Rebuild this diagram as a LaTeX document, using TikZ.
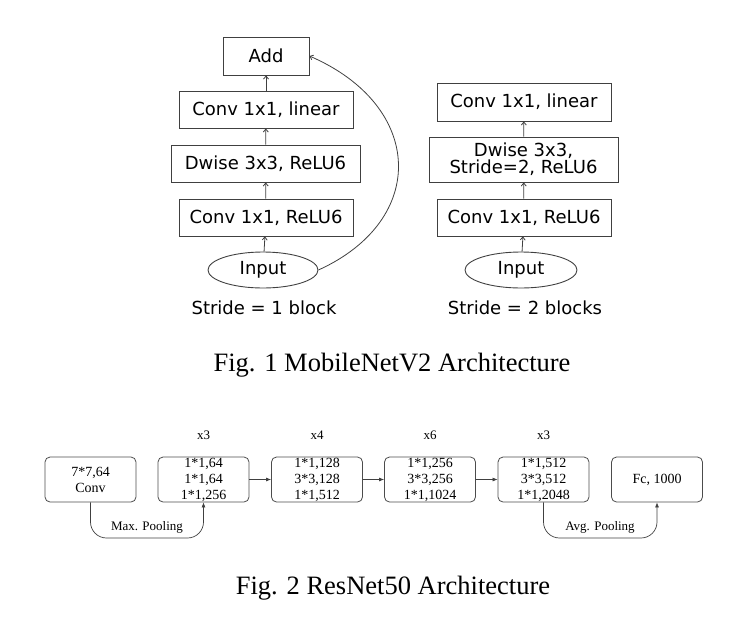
\documentclass[tikz,border=0pt]{standalone}
\usepackage{fontspec}
\setmainfont{Liberation Serif}
\newfontfamily\dvsans{DejaVu Sans}
\usetikzlibrary{arrows.meta,shapes.geometric}
\begin{document}
\begin{tikzpicture}[x=1pt,y=-1pt,
    blk/.style={draw=black!75, line width=0.9pt, inner sep=0pt, minimum height=37pt, align=center, font=\dvsans\fontsize{18}{17}\selectfont},
    inp/.style={blk, ellipse, minimum width=110pt, minimum height=36pt},
    lbl/.style={font=\dvsans\fontsize{18}{20}\selectfont},
    up/.style={draw=black!75, line width=0.8pt, -{Straight Barb[length=3pt,width=5pt]}},
    res/.style={draw=black!70, line width=0.8pt, rounded corners=5pt, minimum width=91pt, minimum height=45pt, inner sep=0pt, align=center, font=\fontsize{14}{16}\selectfont},
    rep/.style={font=\fontsize{13}{16}\selectfont},
    flow/.style={draw=black!75, line width=0.7pt, -{Latex[length=5pt,width=4pt]}},
    pool/.style={flow, rounded corners=16pt},
    figcap/.style={font=\fontsize{26.5}{30}\selectfont}]
    \useasboundingbox (0,0) rectangle (747,632);
    % stride 1 block
    \node [blk, minimum width=86pt, minimum height=38pt] (add) at (266,56) {Add};
    \node [blk, minimum width=174pt] (lin1) at (266,109.5) {Conv 1x1, linear};
    \node [blk, minimum width=189pt] (dw1) at (265.5,163.5) {Dwise 3x3, ReLU6};
    \node [blk, minimum width=174pt] (exp1) at (266,217.5) {Conv 1x1, ReLU6};
    \node [inp] (in1) at (263,270) {Input};
    \node [lbl] (s1) at (264,308) {Stride = 1 block};
    \draw [up] (in1) -- (exp1);
    \draw [up] (exp1) -- (dw1);
    \draw [up] (dw1) -- (lin1);
    \draw [up] (lin1) -- (add);
    \draw [up] (in1.east) .. controls +(110,-50) and +(115,50) .. (add.east);
    % stride 2 blocks
    \node [blk, minimum width=174pt, minimum height=38pt] (lin2) at (524,102) {Conv 1x1, linear};
    \node [blk, minimum width=189pt, minimum height=45pt] (dw2) at (523.5,159.5) {Dwise 3x3,\\Stride=2, ReLU6};
    \node [blk, minimum width=174pt] (exp2) at (524,217.5) {Conv 1x1, ReLU6};
    \node [inp, minimum width=112pt] (in2) at (521,270) {Input};
    \node [lbl] (s2) at (525,308) {Stride = 2 blocks};
    \draw [up] (in2) -- (exp2);
    \draw [up] (exp2) -- (dw2);
    \draw [up] (dw2) -- (lin2);
    \node [figcap] (cap1) at (392,365) {Fig. 1 MobileNetV2 Architecture};
    % resnet50
    \node [res] (conv) at (90.5,479.5) {7*7,64\\Conv};
    \node [res] (st1) at (203.5,479.5) {1*1,64\\1*1,64\\1*1,256};
    \node [res] (st2) at (317,479.5) {1*1,128\\3*3,128\\1*1,512};
    \node [res] (st3) at (430,479.5) {1*1,256\\3*3,256\\1*1,1024};
    \node [res] (st4) at (543.5,479.5) {1*1,512\\3*3,512\\1*1,2048};
    \node [res] (fc) at (657,479.5) {Fc, 1000};
    \node [rep] (r1) at (203.5,435) {x3};
    \node [rep] (r2) at (317,435) {x4};
    \node [rep] (r3) at (430,435) {x6};
    \node [rep] (r4) at (543.5,435) {x3};
    \draw [flow] (st1) -- (st2);
    \draw [flow] (st2) -- (st3);
    \draw [flow] (st3) -- (st4);
    \coordinate (mp) at (147,538);
    \coordinate (ap) at (600,538);
    \draw [pool] (conv.south) |- (mp) -| (st1.south);
    \draw [pool] (st4.south) |- (ap) -| (fc.south);
    \node [rep] (mpl) at (147,527) {Max. Pooling};
    \node [rep] (apl) at (600,527) {Avg. Pooling};
    \node [figcap] (cap2) at (393,588) {Fig. 2 ResNet50 Architecture};
\end{tikzpicture}
\end{document}
